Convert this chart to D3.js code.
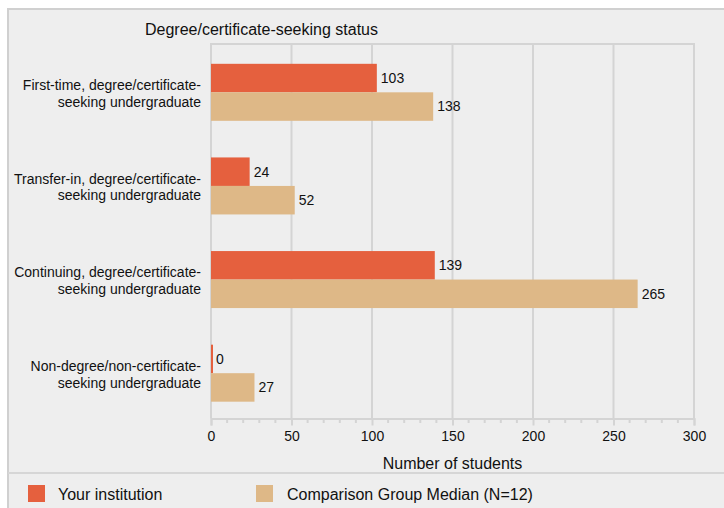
<!DOCTYPE html>
<html>
<head>
<meta charset="utf-8">
<script src="https://cdn.jsdelivr.net/npm/d3@7"></script>
<style>
  html, body { margin: 0; padding: 0; background: #ffffff; }
  svg { display: block; font-family: "Liberation Sans", Arial, Helvetica, sans-serif; }
</style>
</head>
<body>
<svg id="chart" width="724" height="508"></svg>
<script>
const categories = [
  ["First-time, degree/certificate-", "seeking undergraduate"],
  ["Transfer-in, degree/certificate-", "seeking undergraduate"],
  ["Continuing, degree/certificate-", "seeking undergraduate"],
  ["Non-degree/non-certificate-", "seeking undergraduate"]
];
const yourInstitution = [103, 24, 139, 0];
const comparisonMedian = [138, 52, 265, 27];
const seriesNames = ["Your institution", "Comparison Group Median (N=12)"];
const seriesColors = ["#e5603e", "#deb887"];
const xTicks = [0, 50, 100, 150, 200, 250, 300];
const chartTitle = "Degree/certificate-seeking status";
const xTitle = "Number of students";

const svg = d3.select("#chart");
const W = 724, H = 508;
const plot = { left: 211, right: 694, top: 44, bottom: 418.5 };

// panel background
svg.append("rect").attr("x", 8).attr("y", 9).attr("width", W).attr("height", H)
  .attr("fill", "#eeeeee").attr("stroke", "#d0d0d0").attr("stroke-width", 2);
svg.append("line").attr("x1", 8).attr("x2", W).attr("y1", 473).attr("y2", 473)
  .attr("stroke", "#d6d6d6").attr("stroke-width", 2);

const x = d3.scaleLinear().domain([0, 300]).range([plot.left, plot.right]);
const idx = categories.map((d, i) => i);
const y = d3.scaleBand().domain(idx).range([plot.top + 1.5, plot.bottom + 1.5]).padding(0);
const barH = 28.5;

// gridlines
svg.append("g").selectAll("line").data(xTicks).join("line")
  .attr("x1", d => x(d)).attr("x2", d => x(d))
  .attr("y1", plot.top).attr("y2", plot.bottom)
  .attr("stroke", "#d4d4d4").attr("stroke-width", 2);
svg.append("line").attr("x1", plot.left - 1).attr("x2", plot.right + 1)
  .attr("y1", plot.top).attr("y2", plot.top)
  .attr("stroke", "#d4d4d4").attr("stroke-width", 2);

// x axis
const axis = d3.axisBottom(x).tickValues(xTicks).tickSize(7).tickPadding(6);
const gx = svg.append("g").attr("transform", `translate(0,${plot.bottom})`).call(axis);
gx.select(".domain").attr("stroke", "#d4d4d4").attr("stroke-width", 2);
gx.selectAll(".tick line").attr("stroke", "#d4d4d4").attr("stroke-width", 2);
gx.selectAll(".tick text").attr("font-size", 14).attr("fill", "#111")
  .attr("font-family", "Liberation Sans, Arial, sans-serif");
const minor = d3.range(0, 301, 10).filter(v => v % 50 !== 0);
svg.append("g").selectAll("line").data(minor).join("line")
  .attr("x1", d => x(d)).attr("x2", d => x(d))
  .attr("y1", plot.bottom).attr("y2", plot.bottom + 4.5)
  .attr("stroke", "#d4d4d4").attr("stroke-width", 2);

// bars
const series = [yourInstitution, comparisonMedian];
series.forEach((vals, s) => {
  const g = svg.append("g");
  g.selectAll("rect").data(vals).join("rect")
    .attr("x", x(0))
    .attr("y", (d, i) => y(i) + y.bandwidth() / 2 - barH + s * barH)
    .attr("width", d => Math.max(x(d) - x(0), 2))
    .attr("height", barH)
    .attr("fill", seriesColors[s]);
  g.selectAll("text").data(vals).join("text")
    .attr("x", d => Math.max(x(d), x(0) + 1) + 4)
    .attr("y", (d, i) => y(i) + y.bandwidth() / 2 - barH + s * barH + barH / 2)
    .attr("dy", "0.35em")
    .attr("font-size", 14).attr("fill", "#111")
    .text(d => d);
});

// category labels
const cl = svg.append("g").selectAll("text").data(categories).join("text")
  .attr("text-anchor", "end").attr("font-size", 14).attr("fill", "#111")
  .attr("x", 201)
  .attr("y", (d, i) => y(i) + y.bandwidth() / 2);
cl.selectAll("tspan").data(d => d).join("tspan")
  .attr("x", 201)
  .attr("dy", (d, j) => j === 0 ? "-0.17em" : "1.2em")
  .text(d => d);

// title
svg.append("text").attr("x", 145).attr("y", 35).attr("font-size", 16).attr("fill", "#111")
  .text(chartTitle);
svg.append("text").attr("x", (plot.left + plot.right) / 2).attr("y", 469)
  .attr("text-anchor", "middle").attr("font-size", 16).attr("fill", "#111").text(xTitle);

// legend
const legX = [28, 256];
const lg = svg.append("g").selectAll("g").data(seriesNames).join("g")
  .attr("transform", (d, i) => `translate(${legX[i]},485)`);
lg.append("rect").attr("width", 17).attr("height", 17).attr("fill", (d, i) => seriesColors[i]);
lg.append("text").attr("x", (d, i) => i === 0 ? 30 : 31).attr("y", 9).attr("dy", "0.35em")
  .attr("font-size", 16).attr("fill", "#111").text(d => d);
</script>
</body>
</html>
